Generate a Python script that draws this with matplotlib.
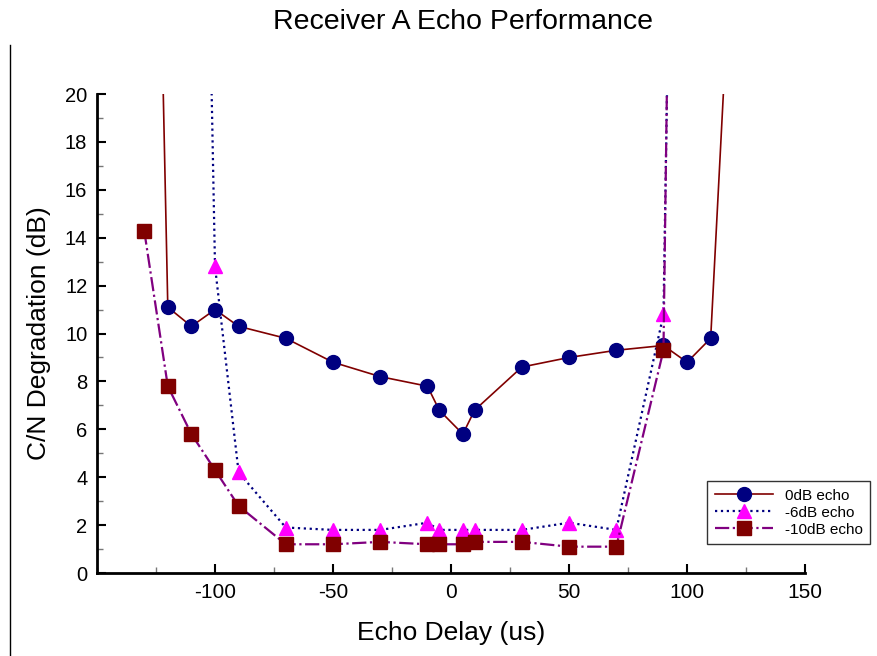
import matplotlib
matplotlib.use('Agg')
import matplotlib.pyplot as plt
from matplotlib.lines import Line2D
from matplotlib.ticker import MultipleLocator

plt.rcParams['font.family'] = ['Liberation Sans', 'DejaVu Sans']
plt.rcParams['axes.unicode_minus'] = False

# echo delay (us) and C/N degradation (dB); first/last points run off the top of the axes
delay_0db = [-123, -120, -110, -100, -90, -70, -50, -30, -10, -5, 5, 10, 30, 50, 70, 90, 100, 110, 118]
cn_0db = [25, 11.1, 10.3, 11.0, 10.3, 9.8, 8.8, 8.2, 7.8, 6.8, 5.8, 6.8, 8.6, 9.0, 9.3, 9.5, 8.8, 9.8, 25]

delay_6db = [-102.4, -100, -90, -70, -50, -30, -10, -5, 5, 10, 30, 50, 70, 90, 92.3]
cn_6db = [25, 12.8, 4.2, 1.9, 1.8, 1.8, 2.1, 1.8, 1.8, 1.8, 1.8, 2.1, 1.8, 10.8, 25]

delay_10db = [-130, -120, -110, -100, -90, -70, -50, -30, -10, -5, 5, 10, 30, 50, 70, 90, 92.1]
cn_10db = [14.3, 7.8, 5.8, 4.3, 2.8, 1.2, 1.2, 1.3, 1.2, 1.2, 1.2, 1.3, 1.3, 1.1, 1.1, 9.3, 25]

fig = plt.figure(figsize=(8.77, 6.56), dpi=100)
ax = fig.add_axes([0.1106, 0.1265, 0.8074, 0.7302])

ax.plot(delay_0db, cn_0db, '-', color='#800000', lw=1.2, marker='o', ms=10,
        mfc='#000080', mec='#000080', label='0dB echo')
ax.plot(delay_6db, cn_6db, ':', color='#000080', lw=1.6, marker='^', ms=10,
        mfc='#ff00ff', mec='#ff00ff', label='-6dB echo')
ax.plot(delay_10db, cn_10db, '-.', color='#800080', lw=1.6, marker='s', ms=10,
        mfc='#800000', mec='#800000', label='-10dB echo')

ax.set_xlim(-150, 150)
ax.set_ylim(0, 20)
ax.xaxis.set_minor_locator(MultipleLocator(25))
ax.yaxis.set_major_locator(MultipleLocator(2))
ax.yaxis.set_minor_locator(MultipleLocator(1))
ax.set_xticks([-100, -50, 0, 50, 100, 150])

for s in ['top', 'right']:
    ax.spines[s].set_visible(False)
for s in ['left', 'bottom']:
    ax.spines[s].set_linewidth(2)

ax.tick_params(which='major', direction='in', length=6.5, width=1.5, pad=7)
ax.tick_params(which='minor', direction='in', length=4, width=1, color='#777777')
ax.tick_params(axis='x', labelsize=15)
ax.tick_params(axis='y', labelsize=14.5)

ax.set_xlabel('Echo Delay (us)', fontsize=19, labelpad=14)
ax.set_ylabel('C/N Degradation (dB)', fontsize=19, labelpad=10)
fig.text(0.528, 0.966, 'Receiver A Echo Performance', ha='center', va='center', fontsize=20.5)

leg = ax.legend(loc='upper left', bbox_to_anchor=(707 / 877, 1 - 481 / 656),
                bbox_transform=fig.transFigure, fontsize=11, frameon=True,
                fancybox=False, edgecolor='black', borderpad=0.5, borderaxespad=0,
                handlelength=3.8, handletextpad=0.8, labelspacing=0.2)
leg.get_frame().set_linewidth(1)

fig.add_artist(Line2D([10 / 877, 10 / 877], [0, 1 - 45 / 656], color='black', lw=1))

fig.savefig('out.png', dpi=100)
